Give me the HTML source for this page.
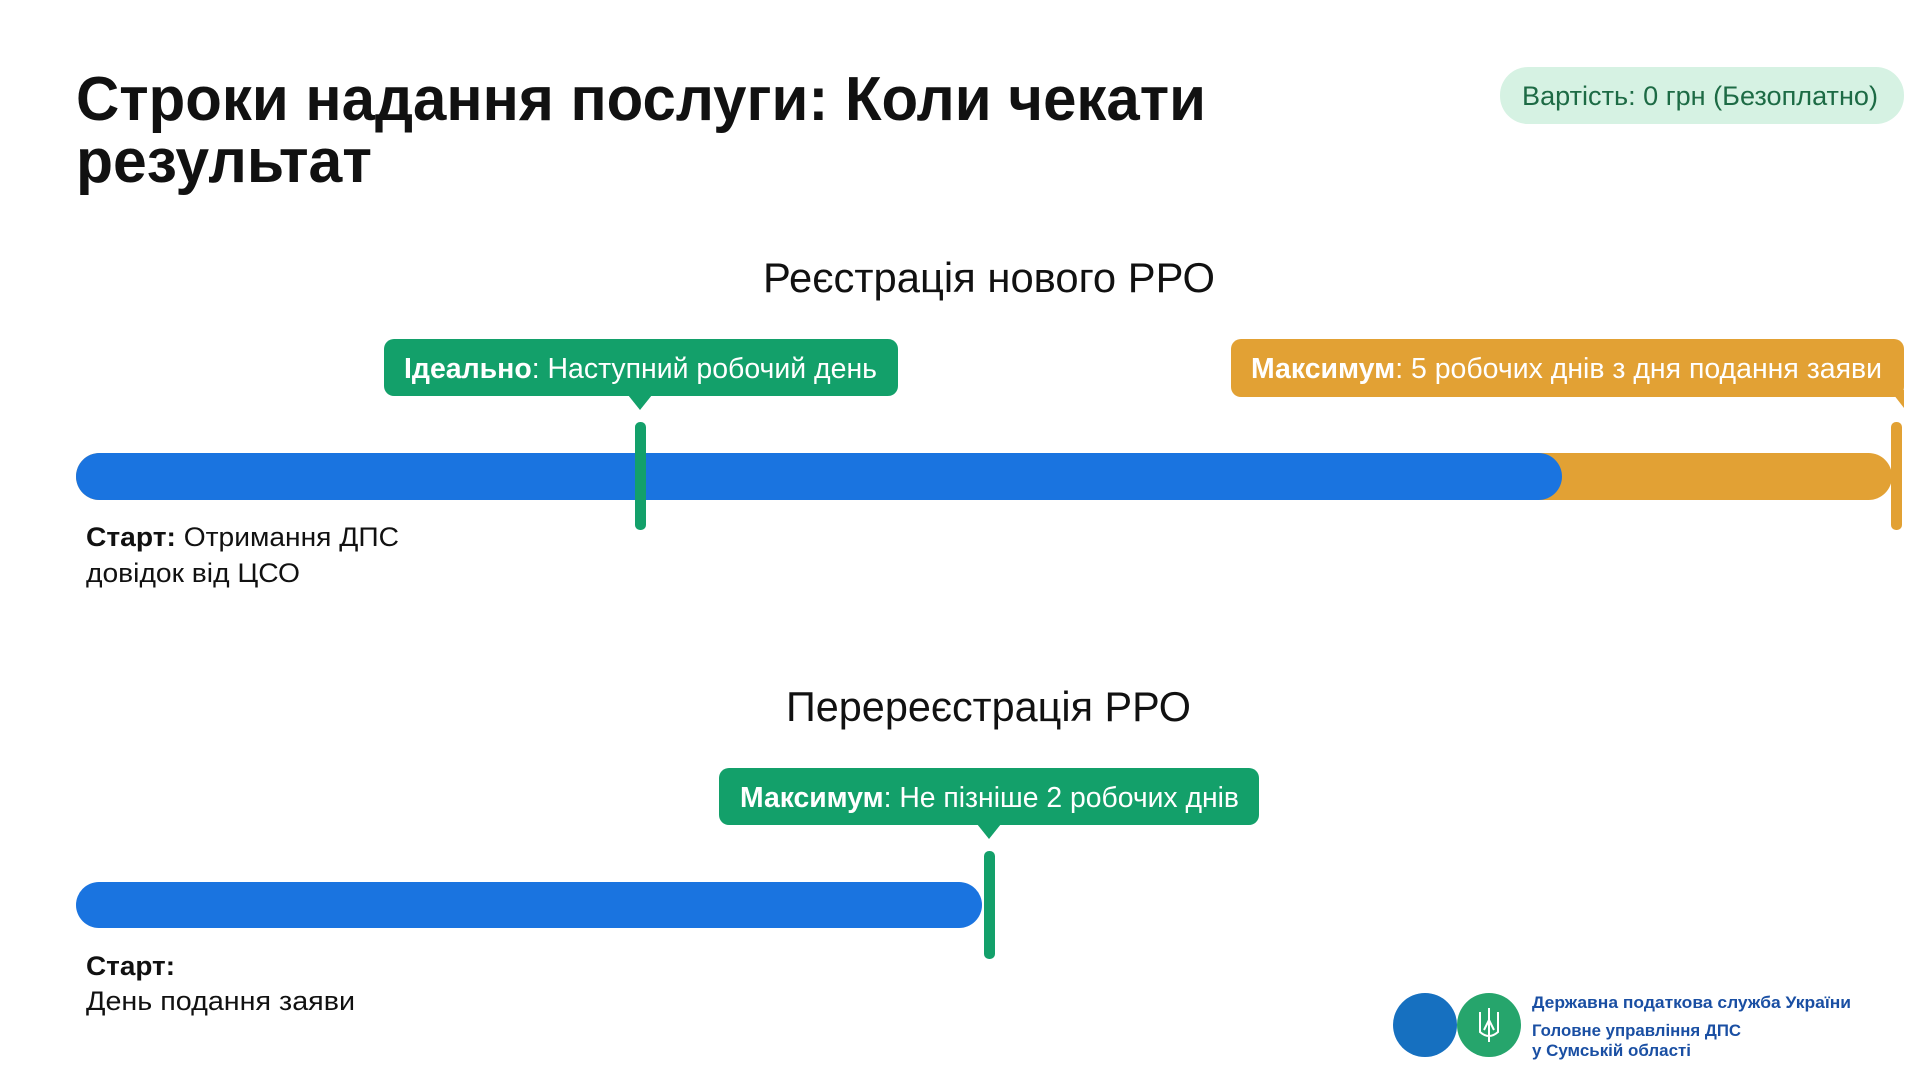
<!DOCTYPE html>
<html><head><meta charset="utf-8"><style>
html,body{margin:0;padding:0;background:#fff;width:1920px;height:1080px;overflow:hidden}
svg{display:block}
text{font-family:"Liberation Sans",sans-serif}
</style></head><body>
<svg width="1920" height="1080" viewBox="0 0 1920 1080" xmlns="http://www.w3.org/2000/svg">
<rect width="1920" height="1080" fill="#fff"/>
<!-- Title -->
<text x="76" y="120" font-size="62" font-weight="bold" fill="#111" textLength="1130" lengthAdjust="spacingAndGlyphs">Строки надання послуги: Коли чекати</text>
<text x="76" y="182" font-size="62" font-weight="bold" fill="#111" textLength="296" lengthAdjust="spacingAndGlyphs">результат</text>
<!-- Badge -->
<rect x="1500" y="67" width="404" height="57" rx="28" fill="#d6f2e3"/>
<text x="1522" y="105" font-size="27" fill="#1d6b45" textLength="356" lengthAdjust="spacingAndGlyphs">Вартість: 0 грн (Безоплатно)</text>
<!-- Section 1 -->
<text x="763" y="292" font-size="42" fill="#111" textLength="452" lengthAdjust="spacingAndGlyphs">Реєстрація нового РРО</text>
<rect x="384" y="339" width="514" height="57" rx="10" fill="#13a06a"/>
<polygon points="628,395 652,395 640,410" fill="#13a06a"/>
<text x="404" y="378" font-size="29" fill="#fff" textLength="473" lengthAdjust="spacingAndGlyphs"><tspan font-weight="bold">Ідеально</tspan>: Наступний робочий день</text>
<rect x="1231" y="339" width="673" height="58" rx="10" fill="#e2a134"/>
<polygon points="1890,390 1904,390 1904,408" fill="#e2a134"/>
<text x="1251" y="378" font-size="29" fill="#fff" textLength="631" lengthAdjust="spacingAndGlyphs"><tspan font-weight="bold">Максимум</tspan>: 5 робочих днів з дня подання заяви</text>
<rect x="76" y="453" width="1816" height="47" rx="23.5" fill="#e2a134"/>
<rect x="76" y="453" width="1486" height="47" rx="23.5" fill="#1a74e0"/>
<rect x="635" y="422" width="11" height="108" rx="5" fill="#13a06a"/>
<rect x="1891" y="422" width="11" height="108" rx="5" fill="#e2a134"/>
<text x="86" y="546" font-size="27" fill="#111" textLength="313" lengthAdjust="spacingAndGlyphs"><tspan font-weight="bold">Старт:</tspan> Отримання ДПС</text>
<text x="86" y="582" font-size="27" fill="#111" textLength="214" lengthAdjust="spacingAndGlyphs">довідок від ЦСО</text>
<!-- Section 2 -->
<text x="786" y="721" font-size="42" fill="#111" textLength="405" lengthAdjust="spacingAndGlyphs">Перереєстрація РРО</text>
<rect x="719" y="768" width="540" height="57" rx="10" fill="#13a06a"/>
<polygon points="977,824 1001,824 989,839" fill="#13a06a"/>
<text x="740" y="807" font-size="29" fill="#fff" textLength="499" lengthAdjust="spacingAndGlyphs"><tspan font-weight="bold">Максимум</tspan>: Не пізніше 2 робочих днів</text>
<rect x="76" y="882" width="906" height="46" rx="23" fill="#1a74e0"/>
<rect x="984" y="851" width="11" height="108" rx="5" fill="#13a06a"/>
<text x="86" y="975" font-size="27" font-weight="bold" fill="#111" textLength="89" lengthAdjust="spacingAndGlyphs">Старт:</text>
<text x="86" y="1010" font-size="27" fill="#111" textLength="269" lengthAdjust="spacingAndGlyphs">День подання заяви</text>
<!-- Logo -->
<circle cx="1425" cy="1025" r="32" fill="#1670c0"/>
<circle cx="1489" cy="1025" r="32" fill="#26a56c"/>
<g fill="none" stroke="#fff" stroke-width="2">
<path d="M1489 1008 L1489 1042 M1480 1012 L1480 1032 Q1489 1040 1498 1032 L1498 1012 M1484 1030 L1489 1020 L1494 1030"/>
</g>
<text x="1532" y="1008" font-size="17" font-weight="bold" fill="#1a4fa3" textLength="319" lengthAdjust="spacingAndGlyphs">Державна податкова служба України</text>
<text x="1532" y="1036" font-size="17" font-weight="bold" fill="#1a4fa3" textLength="209" lengthAdjust="spacingAndGlyphs">Головне управління ДПС</text>
<text x="1532" y="1056" font-size="17" font-weight="bold" fill="#1a4fa3" textLength="159" lengthAdjust="spacingAndGlyphs">у Сумській області</text>
</svg>
</body></html>
